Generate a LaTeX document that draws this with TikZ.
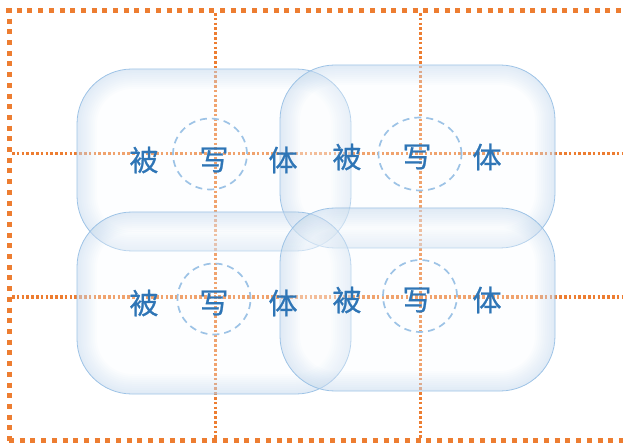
\documentclass[tikz,border=0pt]{standalone}
\usepackage{fontspec}
\newfontfamily\cjk[FakeBold=0.8]{Noto Sans CJK SC}
\usepackage{tikz}
\usetikzlibrary{positioning,shapes.geometric}
\definecolor{frameorange}{RGB}{237,125,49}
\definecolor{subjblue}{RGB}{46,117,182}
\definecolor{boxline}{RGB}{157,195,230}
\definecolor{boxglow}{RGB}{180,208,236}
\definecolor{boxfill}{RGB}{250,252,254}

\begin{document}
\begin{tikzpicture}[x=1pt, y=-1pt,
  frameline/.style={frameorange, line width=5pt, dash pattern=on 5pt off 5.7pt},
  guide/.style={frameorange, line width=3pt, dash pattern=on 2.6pt off 2.2pt},
  subjbox/.style={rectangle, rounded corners=55pt, draw=boxline, line width=0.8pt,
    fill=boxfill, fill opacity=0.3, inner sep=0pt,
    path picture={
      \foreach \w in {40,36,...,4}
        \draw[boxglow, line width=\w pt, draw opacity=0.045, rounded corners=55pt]
          (path picture bounding box.north west) rectangle (path picture bounding box.south east);
    }},
  ring/.style={ellipse, draw=boxline, line width=1.7pt, dash pattern=on 7pt off 5pt, inner sep=0pt},
  subjlabel/.style={font=\cjk\fontsize{29}{29}\selectfont, text=subjblue, inner sep=0pt}]
\useasboundingbox (0,0) rectangle (623,443);
% Outer frame
\draw[frameline] (6,10.5) -- (623,10.5);
\draw[frameline] (9,8) -- (9,443);
\draw[frameline] (9,440) -- (623,440);
% Guides
\draw[guide] (215,13) -- (215,438);
\draw[guide] (420,13) -- (420,438);
\draw[guide] (12,154) -- (623,154);
\draw[guide] (12,297) -- (623,297);
% Subject boxes
\node[subjbox, minimum width=274pt, minimum height=182pt] (box1) at (214,160) {};
\node[subjbox, minimum width=275pt, minimum height=183pt] (box2) at (417.5,156.5) {};
\node[subjbox, minimum width=274pt, minimum height=182pt] (box3) at (214,303) {};
\node[subjbox, minimum width=275pt, minimum height=183pt] (box4) at (417.5,299.5) {};
% Focus rings
\node[ring, minimum width=74pt, minimum height=71pt] (ring1) at (210,154) {};
\node[ring, minimum width=83pt, minimum height=73pt] (ring2) at (420,154) {};
\node[ring, minimum width=73pt, minimum height=71pt] (ring3) at (214,299) {};
\node[ring, minimum width=74pt, minimum height=72pt] (ring4) at (420,296) {};
% Labels
\node[subjlabel] (bei1) at (144,160) {被};
\node[subjlabel] (xie1) at (214,160) {写};
\node[subjlabel] (ti1) at (283,160) {体};
\node[subjlabel] (bei2) at (347,157) {被};
\node[subjlabel] (xie2) at (417,157) {写};
\node[subjlabel] (ti2) at (487,157) {体};
\node[subjlabel] (bei3) at (144,303) {被};
\node[subjlabel] (xie3) at (214,303) {写};
\node[subjlabel] (ti3) at (283,303) {体};
\node[subjlabel] (bei4) at (347,300) {被};
\node[subjlabel] (xie4) at (417,300) {写};
\node[subjlabel] (ti4) at (487,300) {体};
\end{tikzpicture}
\end{document}
